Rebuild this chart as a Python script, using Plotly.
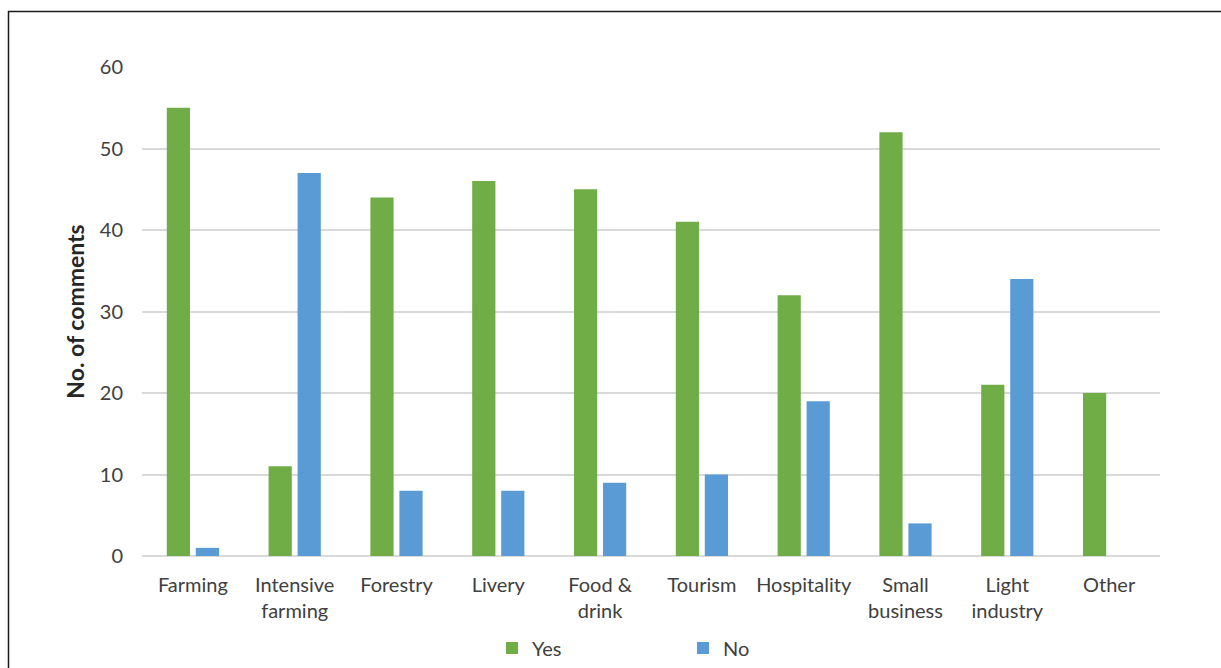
import plotly.graph_objects as go

categories = ["Farming", "Intensive<br>farming", "Forestry", "Livery", "Food &<br>drink",
              "Tourism", "Hospitality", "Small<br>business", "Light<br>industry", "Other"]
yes_counts = [55, 11, 44, 46, 45, 41, 32, 52, 21, 20]
no_counts = [1, 47, 8, 8, 9, 10, 19, 4, 34, None]
y_ticks = [0, 10, 20, 30, 40, 50, 60]

GREEN = "#70AD47"
BLUE = "#5B9BD5"
FONT = "Lato"

fig = go.Figure()
fig.add_trace(go.Bar(name="Yes", x=categories, y=yes_counts, marker_color=GREEN,
                     marker_line_width=0))
fig.add_trace(go.Bar(name="No", x=categories, y=no_counts, marker_color=BLUE,
                     marker_line_width=0))

W, H = 1221, 668
L, R, T, B = 142, 61, 67, 112
pw, ph = W - L - R, H - T - B

def px_x(p):
    return (p - L) / pw

def px_y(p):
    return (H - B - p) / ph

fig.update_layout(
    width=W, height=H,
    margin=dict(l=L, r=R, t=T, b=B, pad=0, autoexpand=False),
    paper_bgcolor="white", plot_bgcolor="white",
    barmode="group", bargap=0.43, bargroupgap=0.2,
    font=dict(family=FONT, size=20, color="#404040"),
    showlegend=True,
    legend=dict(orientation="h", x=px_x(683), xanchor="center", y=px_y(648), yanchor="middle",
                entrywidth=146, entrywidthmode="pixels",
                font=dict(family=FONT, size=20, color="#404040"),
                itemwidth=30, traceorder="normal"),
    xaxis=dict(showgrid=False, showline=False, ticks="", tickfont=dict(size=20),
               ticklabelstandoff=15, automargin=False),
    yaxis=dict(range=[0, 60], tickvals=y_ticks, showgrid=True, gridcolor="#D9D9D9",
               gridwidth=1.5, zeroline=True, zerolinecolor="#D9D9D9", zerolinewidth=1.5,
               showline=False, ticks="", ticklabelstandoff=18, tickfont=dict(size=20),
               automargin=False,
               title=dict(text="<b>No. of comments</b>", font=dict(size=23, color="#262626"),
                          standoff=8)),
    shapes=[dict(type="rect", xref="paper", yref="paper",
                 x0=px_x(8.5), x1=px_x(1230), y0=px_y(680), y1=px_y(11.5),
                 line=dict(color="#1a1a1a", width=1.5), fillcolor="rgba(0,0,0,0)",
                 layer="below")],
)

fig.write_html("out.html")
